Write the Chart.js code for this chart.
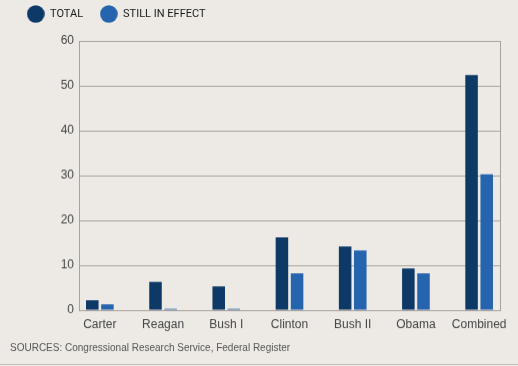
<!DOCTYPE html>
<html>
<head>
<meta charset="utf-8">
<script src="https://cdn.jsdelivr.net/npm/chart.js@4.4.1/dist/chart.umd.min.js"></script>
<style>
  html, body { margin: 0; padding: 0; background: #edeae6; }
  canvas { display: block; border-bottom: 1px solid #c4bfba; }
</style>
</head>
<body>
<canvas id="chart" width="518" height="365"></canvas>
<script>
const categories = ['Carter', 'Reagan', 'Bush I', 'Clinton', 'Bush II', 'Obama', 'Combined'];
const totalValues = [2.2, 6.3, 5.3, 16.2, 14.2, 9.3, 52.4];
const stillInEffectValues = [1.3, 0.3, 0.3, 8.2, 13.3, 8.2, 30.3];
const yTicks = [0, 10, 20, 30, 40, 50, 60];
const sourceNote = 'SOURCES: Congressional Research Service, Federal Register';

const gridColor = '#aaa19c';
const textColor = '#454545';
const totalColor = '#0d3966';
const stillColor = '#2664ad';

Chart.defaults.font.family = "'Liberation Sans', Arial, sans-serif";

// legend dots are a bit bigger than the label font allows
function dot(color) {
  const c = document.createElement('canvas');
  c.width = 18;
  c.height = 18;
  const g = c.getContext('2d');
  g.fillStyle = color;
  g.beginPath();
  g.arc(9, 9, 8.8, 0, Math.PI * 2);
  g.fill();
  return c;
}

// give the legend some room underneath it
const legendSpacing = {
  id: 'legendSpacing',
  beforeInit(chart) {
    const fit = chart.legend.fit;
    chart.legend.fit = function () {
      fit.call(this);
      this.height = 49.5;
    };
  },
};

const toPoints = (values) => values.map((v, i) => ({ x: i, y: v }));

new Chart(document.getElementById('chart'), {
  type: 'bar',
  data: {
    datasets: [
      { label: 'TOTAL', data: toPoints(totalValues), backgroundColor: totalColor, borderWidth: 0, pointStyle: dot(totalColor) },
      { label: 'STILL IN EFFECT', data: toPoints(stillInEffectValues), backgroundColor: stillColor, borderWidth: 0, pointStyle: dot(stillColor) },
    ],
  },
  options: {
    responsive: false,
    animation: false,
    categoryPercentage: 0.479,
    barPercentage: 0.828,
    layout: { padding: { top: -8.5, left: 10, right: 0, bottom: 10 } },
    plugins: {
      legend: {
        position: 'top',
        align: 'start',
        labels: {
          usePointStyle: true,
          pointStyleWidth: 17.5,
          padding: 17,
          color: '#1a1a1a',
          font: { family: "Roboto, 'Liberation Sans', sans-serif", size: 11 },
        },
      },
      subtitle: {
        display: true,
        text: sourceNote,
        position: 'bottom',
        align: 'start',
        color: '#555',
        font: { size: 10 },
        padding: 0,
      },
      tooltip: { enabled: false },
    },
    scales: {
      x: {
        type: 'linear',
        offset: false,
        min: -0.33,
        max: categories.length - 1 + 0.33,
        grid: { display: false, drawTicks: false },
        border: { display: false },
        ticks: {
          stepSize: 1,
          includeBounds: false,
          autoSkip: false,
          maxRotation: 0,
          padding: 7,
          color: textColor,
          font: { size: 12 },
          callback: (v) => (Number.isInteger(v) ? categories[v] : ''),
        },
        afterFit(scale) { scale.height = 32; },
      },
      y: {
        min: yTicks[0],
        max: yTicks[yTicks.length - 1],
        grid: { color: gridColor, drawTicks: false },
        border: { display: true, color: gridColor },
        ticks: { stepSize: yTicks[1] - yTicks[0], padding: 5, color: textColor, font: { size: 12 } },
        afterFit(scale) { scale.width = 69; },
      },
      y2: {
        position: 'right',
        min: yTicks[0],
        max: yTicks[yTicks.length - 1],
        grid: { drawOnChartArea: false, drawTicks: false },
        border: { display: true, color: gridColor },
        ticks: { display: false },
        afterFit(scale) { scale.width = 18; },
      },
    },
  },
  plugins: [legendSpacing],
});
</script>
</body>
</html>
